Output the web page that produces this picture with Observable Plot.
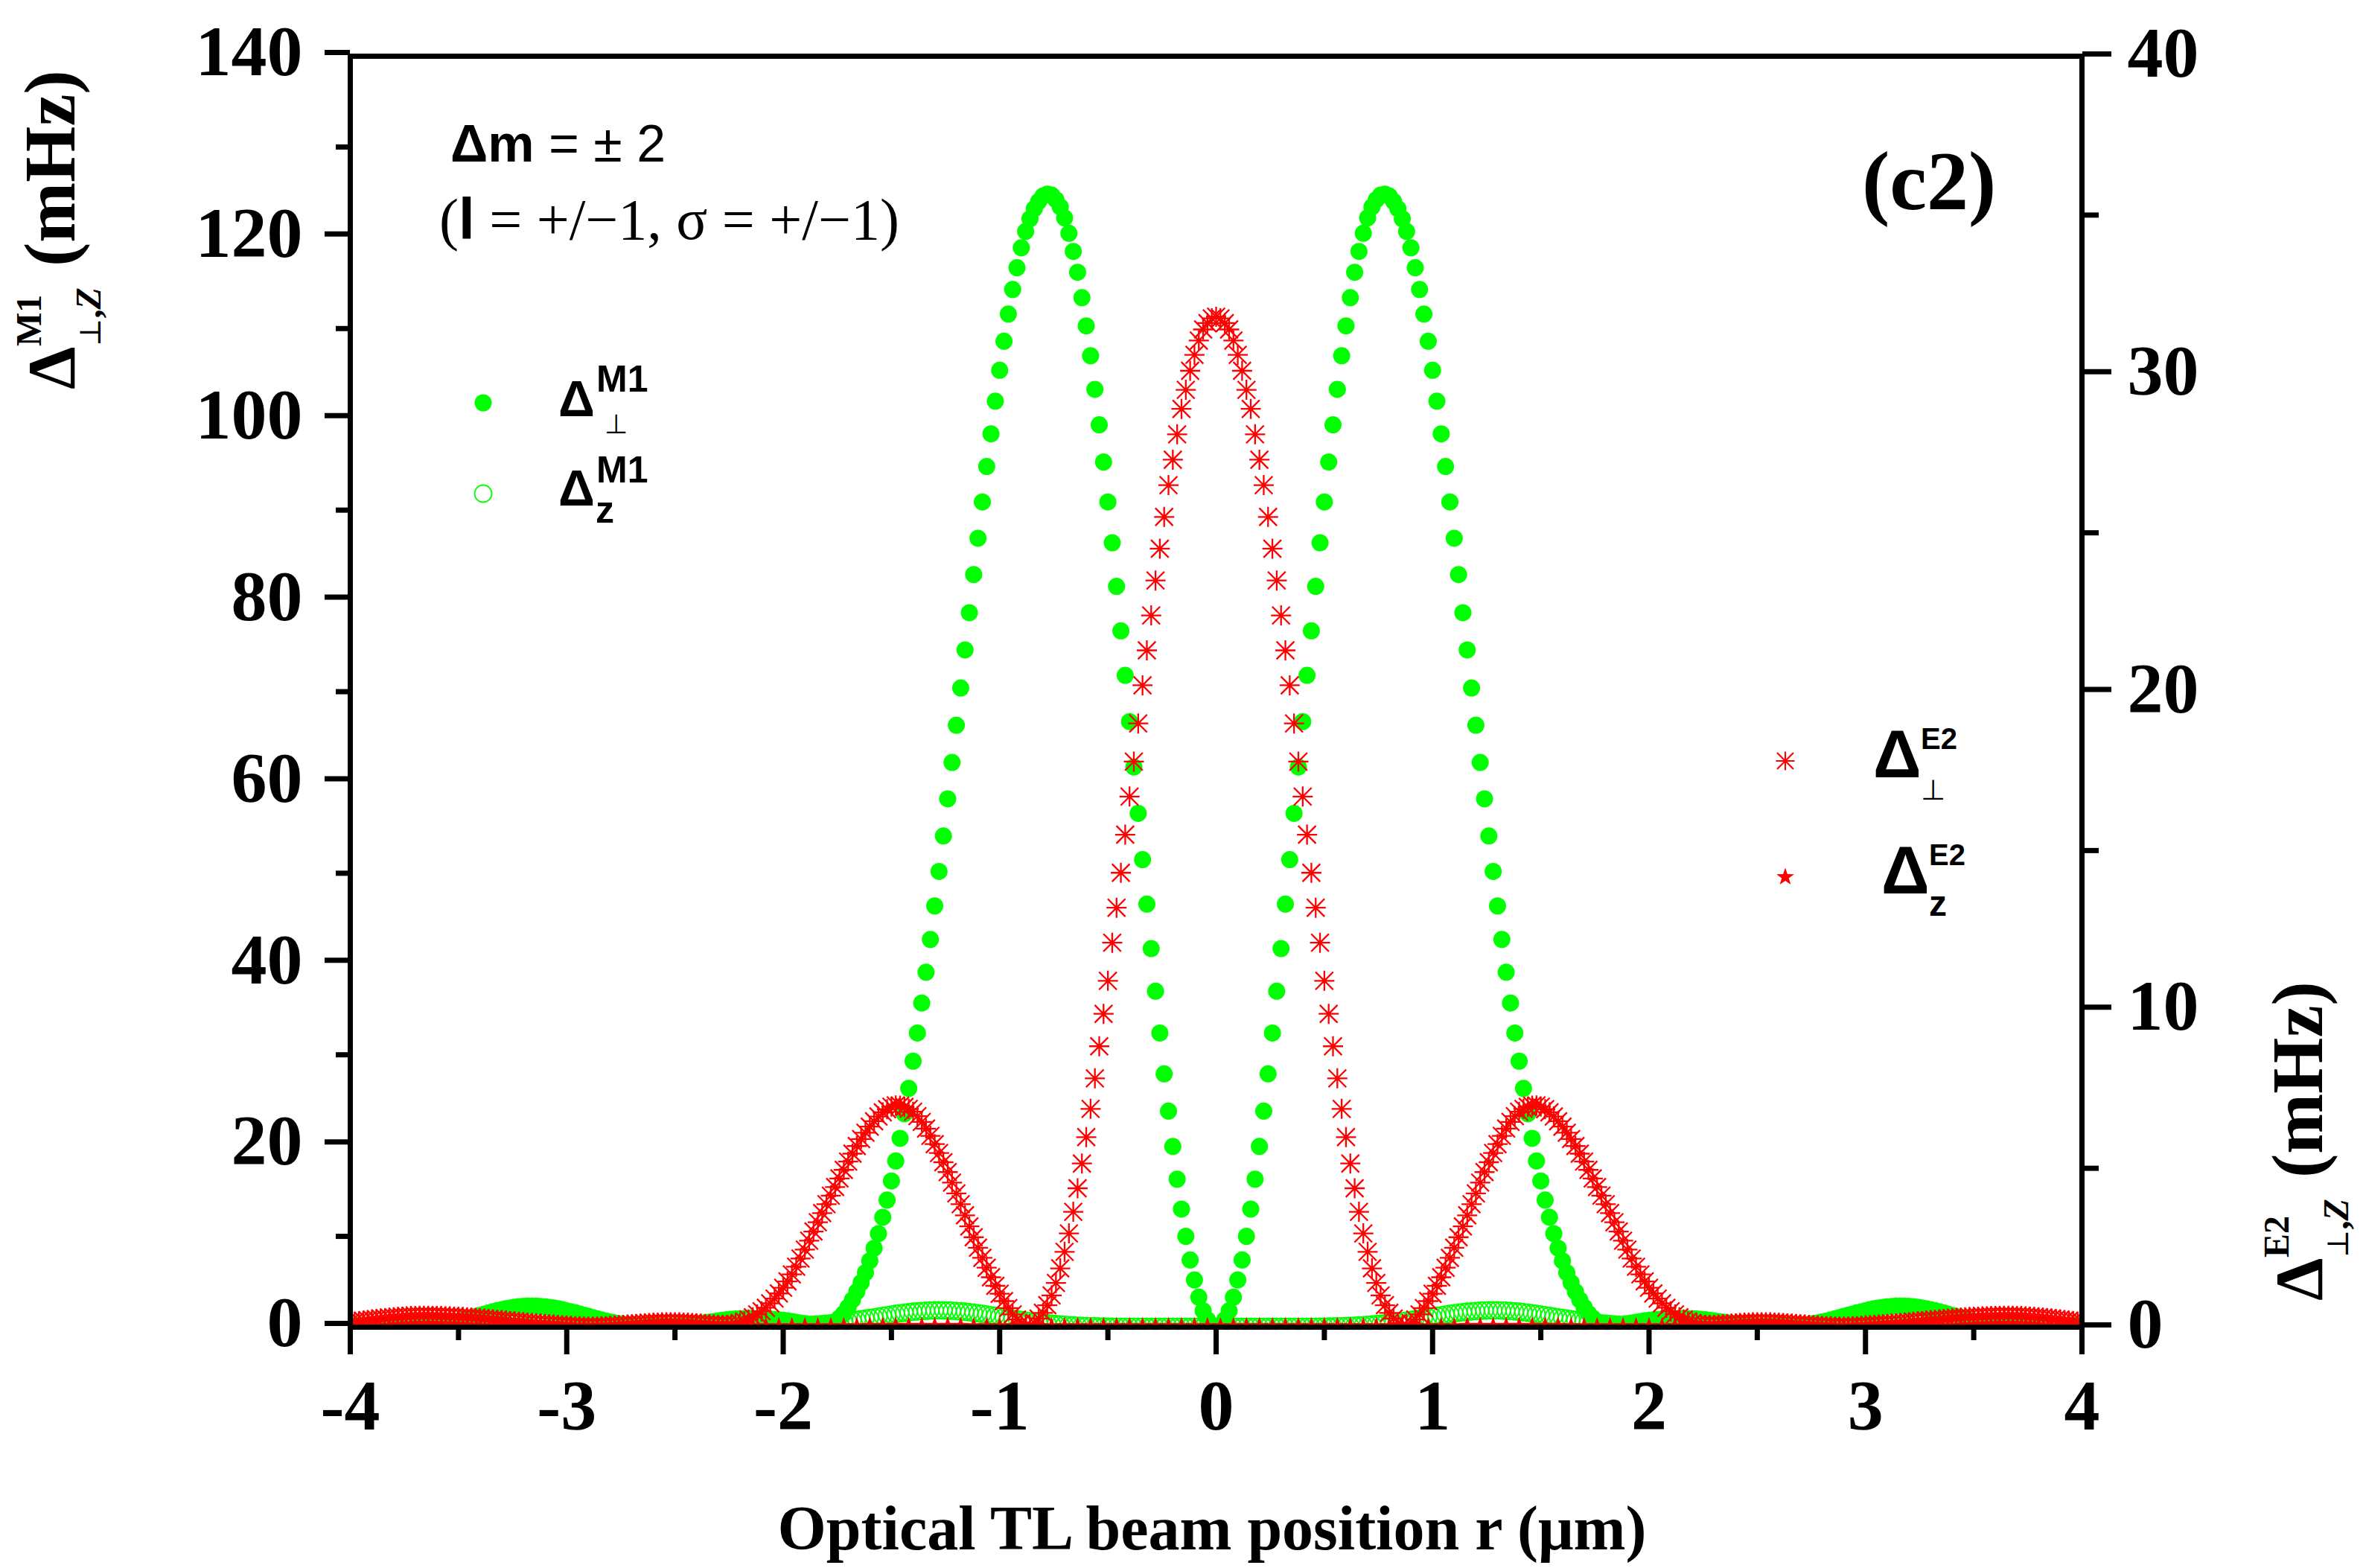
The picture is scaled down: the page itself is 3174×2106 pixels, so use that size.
<!DOCTYPE html>
<html><head><meta charset="utf-8">
<script src="https://cdn.jsdelivr.net/npm/d3@7"></script>
<script src="https://cdn.jsdelivr.net/npm/@observablehq/plot@0.6"></script>
<style>html,body{margin:0;padding:0;background:#fff;}#chart{width:3174px;height:2106px;}</style>
</head><body><div id="chart"></div>
<script>
// beam position r (µm)
const r = [
-4,-3.98,-3.96,-3.94,-3.92,-3.9,-3.88,-3.86,-3.84,-3.82,
-3.8,-3.78,-3.76,-3.74,-3.72,-3.7,-3.68,-3.66,-3.64,-3.62,
-3.6,-3.58,-3.56,-3.54,-3.52,-3.5,-3.48,-3.46,-3.44,-3.42,
-3.4,-3.38,-3.36,-3.34,-3.32,-3.3,-3.28,-3.26,-3.24,-3.22,
-3.2,-3.18,-3.16,-3.14,-3.12,-3.1,-3.08,-3.06,-3.04,-3.02,
-3,-2.98,-2.96,-2.94,-2.92,-2.9,-2.88,-2.86,-2.84,-2.82,
-2.8,-2.78,-2.76,-2.74,-2.72,-2.7,-2.68,-2.66,-2.64,-2.62,
-2.6,-2.58,-2.56,-2.54,-2.52,-2.5,-2.48,-2.46,-2.44,-2.42,
-2.4,-2.38,-2.36,-2.34,-2.32,-2.3,-2.28,-2.26,-2.24,-2.22,
-2.2,-2.18,-2.16,-2.14,-2.12,-2.1,-2.08,-2.06,-2.04,-2.02,
-2,-1.98,-1.96,-1.94,-1.92,-1.9,-1.88,-1.86,-1.84,-1.82,
-1.8,-1.78,-1.76,-1.74,-1.72,-1.7,-1.68,-1.66,-1.64,-1.62,
-1.6,-1.58,-1.56,-1.54,-1.52,-1.5,-1.48,-1.46,-1.44,-1.42,
-1.4,-1.38,-1.36,-1.34,-1.32,-1.3,-1.28,-1.26,-1.24,-1.22,
-1.2,-1.18,-1.16,-1.14,-1.12,-1.1,-1.08,-1.06,-1.04,-1.02,
-1,-0.98,-0.96,-0.94,-0.92,-0.9,-0.88,-0.86,-0.84,-0.82,
-0.8,-0.78,-0.76,-0.74,-0.72,-0.7,-0.68,-0.66,-0.64,-0.62,
-0.6,-0.58,-0.56,-0.54,-0.52,-0.5,-0.48,-0.46,-0.44,-0.42,
-0.4,-0.38,-0.36,-0.34,-0.32,-0.3,-0.28,-0.26,-0.24,-0.22,
-0.2,-0.18,-0.16,-0.14,-0.12,-0.1,-0.08,-0.06,-0.04,-0.02,
0,0.02,0.04,0.06,0.08,0.1,0.12,0.14,0.16,0.18,
0.2,0.22,0.24,0.26,0.28,0.3,0.32,0.34,0.36,0.38,
0.4,0.42,0.44,0.46,0.48,0.5,0.52,0.54,0.56,0.58,
0.6,0.62,0.64,0.66,0.68,0.7,0.72,0.74,0.76,0.78,
0.8,0.82,0.84,0.86,0.88,0.9,0.92,0.94,0.96,0.98,
1,1.02,1.04,1.06,1.08,1.1,1.12,1.14,1.16,1.18,
1.2,1.22,1.24,1.26,1.28,1.3,1.32,1.34,1.36,1.38,
1.4,1.42,1.44,1.46,1.48,1.5,1.52,1.54,1.56,1.58,
1.6,1.62,1.64,1.66,1.68,1.7,1.72,1.74,1.76,1.78,
1.8,1.82,1.84,1.86,1.88,1.9,1.92,1.94,1.96,1.98,
2,2.02,2.04,2.06,2.08,2.1,2.12,2.14,2.16,2.18,
2.2,2.22,2.24,2.26,2.28,2.3,2.32,2.34,2.36,2.38,
2.4,2.42,2.44,2.46,2.48,2.5,2.52,2.54,2.56,2.58,
2.6,2.62,2.64,2.66,2.68,2.7,2.72,2.74,2.76,2.78,
2.8,2.82,2.84,2.86,2.88,2.9,2.92,2.94,2.96,2.98,
3,3.02,3.04,3.06,3.08,3.1,3.12,3.14,3.16,3.18,
3.2,3.22,3.24,3.26,3.28,3.3,3.32,3.34,3.36,3.38,
3.4,3.42,3.44,3.46,3.48,3.5,3.52,3.54,3.56,3.58,
3.6,3.62,3.64,3.66,3.68,3.7,3.72,3.74,3.76,3.78,
3.8,3.82,3.84,3.86,3.88,3.9,3.92,3.94,3.96,3.98,
4];

// Δ⊥^M1 (mHz, left axis) – green filled circles
const perpM1 = [
0.22,
0.22,0.21,0.2,0.19,0.18,0.16,0.14,0.12,0.1,0.08,
0.06,0.04,0.03,0.02,0.02,0.03,0.05,0.08,0.12,0.18,
0.25,0.33,0.42,0.53,0.64,0.76,0.89,1.02,1.16,1.3,
1.44,1.57,1.7,1.82,1.93,2.03,2.12,2.19,2.25,2.29,
2.31,2.32,2.31,2.28,2.24,2.18,2.11,2.02,1.92,1.81,
1.69,1.57,1.44,1.31,1.18,1.05,0.92,0.8,0.68,0.57,
0.47,0.38,0.3,0.23,0.17,0.12,0.08,0.05,0.03,0.02,
0.02,0.03,0.05,0.07,0.1,0.14,0.19,0.24,0.3,0.36,
0.42,0.49,0.56,0.62,0.69,0.75,0.81,0.86,0.9,0.93,
0.95,0.96,0.96,0.95,0.93,0.91,0.88,0.84,0.8,0.75,
0.69,0.62,0.54,0.46,0.38,0.3,0.22,0.17,0.15,0.2,
0.35,0.6,1.0,1.5,2.2,3.0,3.9,4.9,6.0,7.3,
8.7,10.3,12.1,14.0,16.1,18.3,20.8,23.5,26.3,29.3,
32.4,35.7,39.1,42.7,46.4,50.2,54.1,58.2,62.2,66.3,
70.4,74.6,78.7,82.9,86.9,90.9,94.8,98.4,102.0,105.4,
108.6,111.6,114.3,116.7,118.9,120.7,122.1,123.2,124.0,124.6,
124.8,124.7,124.2,123.4,122.2,120.5,118.5,116.2,113.4,110.3,
107.0,103.3,99.4,95.3,90.9,86.4,81.6,76.7,71.8,66.7,
61.7,56.6,51.5,46.6,41.7,37.0,32.4,27.9,23.8,19.9,
16.3,13.0,10.0,7.4,5.2,3.3,1.8,0.8,0.2,
0,0.2,0.8,1.8,3.3,5.2,7.4,10.0,13.0,16.3,
19.9,23.8,27.9,32.4,37.0,41.7,46.6,51.5,56.6,61.7,
66.7,71.8,76.7,81.6,86.4,90.9,95.3,99.4,103.3,107.0,
110.3,113.4,116.2,118.5,120.5,122.2,123.4,124.2,124.7,124.8,
124.6,124.0,123.2,122.1,120.7,118.9,116.7,114.3,111.6,108.6,
105.4,102.0,98.4,94.8,90.9,86.9,82.9,78.7,74.6,70.4,
66.3,62.2,58.2,54.1,50.2,46.4,42.7,39.1,35.7,32.4,
29.3,26.3,23.5,20.8,18.3,16.1,14.0,12.1,10.3,8.7,
7.3,6.0,4.9,3.9,3.0,2.2,1.5,1.0,0.6,0.35,
0.2,0.15,0.17,0.22,0.3,0.38,0.46,0.54,0.62,0.69,
0.75,0.8,0.84,0.88,0.91,0.93,0.95,0.96,0.96,0.95,
0.93,0.9,0.86,0.81,0.75,0.69,0.62,0.56,0.49,0.42,
0.36,0.3,0.24,0.19,0.14,0.1,0.07,0.05,0.03,0.02,
0.02,0.03,0.05,0.08,0.12,0.17,0.23,0.3,0.38,0.47,
0.57,0.68,0.8,0.92,1.05,1.18,1.31,1.44,1.57,1.69,
1.81,1.92,2.02,2.11,2.18,2.24,2.28,2.31,2.32,2.31,
2.29,2.25,2.19,2.12,2.03,1.93,1.82,1.7,1.57,1.44,
1.3,1.16,1.02,0.89,0.76,0.64,0.53,0.42,0.33,0.25,
0.18,0.12,0.08,0.05,0.03,0.02,0.02,0.03,0.04,0.06,
0.08,0.1,0.12,0.14,0.16,0.18,0.19,0.2,0.21,0.22,
0.22];

// Δz^M1 (mHz, left axis) – green open circles
const zM1 = [
0.02,
0.02,0.02,0.02,0.02,0.02,0.02,0.02,0.02,0.02,0.02,
0.02,0.02,0.02,0.02,0.02,0.02,0.02,0.03,0.03,0.03,
0.03,0.03,0.03,0.03,0.04,0.04,0.04,0.04,0.05,0.05,
0.05,0.05,0.06,0.06,0.06,0.06,0.07,0.07,0.07,0.07,
0.07,0.07,0.08,0.08,0.08,0.08,0.08,0.08,0.08,0.08,
0.08,0.08,0.08,0.08,0.07,0.07,0.07,0.07,0.07,0.07,
0.06,0.06,0.06,0.06,0.05,0.05,0.05,0.05,0.04,0.04,
0.04,0.04,0.04,0.03,0.03,0.03,0.03,0.03,0.03,0.03,
0.03,0.03,0.03,0.03,0.03,0.03,0.03,0.03,0.03,0.03,
0.03,0.03,0.03,0.03,0.03,0.04,0.05,0.06,0.07,0.09,
0.10,0.12,0.14,0.16,0.19,0.22,0.25,0.29,0.33,0.37,
0.42,0.47,0.53,0.58,0.65,0.71,0.78,0.86,0.93,1.01,
1.08,1.16,1.24,1.31,1.39,1.46,1.53,1.59,1.65,1.70,
1.74,1.78,1.81,1.83,1.85,1.85,1.85,1.83,1.81,1.78,
1.74,1.70,1.65,1.59,1.53,1.46,1.39,1.31,1.24,1.16,
1.08,1.01,0.93,0.86,0.78,0.71,0.65,0.58,0.53,0.47,
0.42,0.37,0.33,0.29,0.25,0.22,0.19,0.16,0.14,0.12,
0.10,0.09,0.07,0.06,0.05,0.04,0.03,0.03,0.03,0.03,
0.03,0.03,0.03,0.02,0.02,0.02,0.02,0.02,0.02,0.02,
0.02,0.02,0.02,0.02,0.02,0.02,0.02,0.02,0.02,
0.02,0.02,0.02,0.02,0.02,0.02,0.02,0.02,0.02,0.02,
0.02,0.02,0.02,0.02,0.02,0.02,0.02,0.03,0.03,0.03,
0.03,0.03,0.03,0.03,0.04,0.05,0.06,0.07,0.09,0.10,
0.12,0.14,0.16,0.19,0.22,0.25,0.29,0.33,0.37,0.42,
0.47,0.53,0.58,0.65,0.71,0.78,0.86,0.93,1.01,1.08,
1.16,1.24,1.31,1.39,1.46,1.53,1.59,1.65,1.70,1.74,
1.78,1.81,1.83,1.85,1.85,1.85,1.83,1.81,1.78,1.74,
1.70,1.65,1.59,1.53,1.46,1.39,1.31,1.24,1.16,1.08,
1.01,0.93,0.86,0.78,0.71,0.65,0.58,0.53,0.47,0.42,
0.37,0.33,0.29,0.25,0.22,0.19,0.16,0.14,0.12,0.10,
0.09,0.07,0.06,0.05,0.04,0.03,0.03,0.03,0.03,0.03,
0.03,0.03,0.03,0.03,0.03,0.03,0.03,0.03,0.03,0.03,
0.03,0.03,0.03,0.03,0.03,0.03,0.03,0.04,0.04,0.04,
0.04,0.04,0.05,0.05,0.05,0.05,0.06,0.06,0.06,0.06,
0.07,0.07,0.07,0.07,0.07,0.07,0.08,0.08,0.08,0.08,
0.08,0.08,0.08,0.08,0.08,0.08,0.08,0.08,0.07,0.07,
0.07,0.07,0.07,0.07,0.06,0.06,0.06,0.06,0.05,0.05,
0.05,0.05,0.04,0.04,0.04,0.04,0.03,0.03,0.03,0.03,
0.03,0.03,0.03,0.02,0.02,0.02,0.02,0.02,0.02,0.02,
0.02,0.02,0.02,0.02,0.02,0.02,0.02,0.02,0.02,0.02,
0.02];

// Δ⊥^E2 (mHz, right axis) – red asterisks
const perpE2 = [
0.15,
0.17,0.19,0.20,0.22,0.24,0.25,0.27,0.28,0.30,0.31,
0.32,0.33,0.34,0.35,0.35,0.36,0.36,0.36,0.35,0.35,
0.35,0.34,0.34,0.33,0.32,0.32,0.31,0.30,0.29,0.28,
0.27,0.25,0.24,0.23,0.22,0.21,0.19,0.18,0.17,0.15,
0.14,0.13,0.12,0.11,0.10,0.09,0.08,0.07,0.06,0.05,
0.04,0.03,0.03,0.02,0.02,0.02,0.02,0.03,0.03,0.04,
0.05,0.06,0.07,0.08,0.09,0.10,0.11,0.12,0.13,0.14,
0.14,0.15,0.15,0.15,0.15,0.15,0.14,0.14,0.13,0.12,
0.11,0.10,0.09,0.08,0.07,0.07,0.07,0.08,0.10,0.13,
0.18,0.24,0.31,0.40,0.50,0.61,0.75,0.90,1.06,1.24,
1.44,1.66,1.90,2.16,2.44,2.72,3.01,3.30,3.59,3.87,
4.14,4.41,4.68,4.95,5.21,5.46,5.70,5.92,6.12,6.31,
6.48,6.63,6.76,6.86,6.94,6.98,6.97,6.93,6.87,6.78,
6.64,6.46,6.25,6.02,5.76,5.48,5.19,4.88,4.55,4.21,
3.87,3.52,3.17,2.83,2.50,2.18,1.87,1.57,1.30,1.05,
0.82,0.60,0.40,0.24,0.12,0.05,0.05,0.13,0.27,0.45,
0.69,1.00,1.39,1.85,2.37,2.95,3.63,4.37,5.15,5.98,
6.87,7.83,8.84,9.86,10.9,12.1,13.2,14.3,15.5,16.7,
17.8,19.0,20.2,21.3,22.4,23.5,24.5,25.5,26.5,27.3,
28.1,28.9,29.5,30.1,30.6,31.05,31.4,31.6,31.75,
31.8,31.75,31.6,31.4,31.05,30.6,30.1,29.5,28.9,28.1,
27.3,26.5,25.5,24.5,23.5,22.4,21.3,20.2,19.0,17.8,
16.7,15.5,14.3,13.2,12.1,10.9,9.86,8.84,7.83,6.87,
5.98,5.15,4.37,3.63,2.95,2.37,1.85,1.39,1.00,0.69,
0.45,0.27,0.13,0.05,0.05,0.12,0.24,0.40,0.60,0.82,
1.05,1.30,1.57,1.87,2.18,2.50,2.83,3.17,3.52,3.87,
4.21,4.55,4.88,5.19,5.48,5.76,6.02,6.25,6.46,6.64,
6.78,6.87,6.93,6.97,6.98,6.94,6.86,6.76,6.63,6.48,
6.31,6.12,5.92,5.70,5.46,5.21,4.95,4.68,4.41,4.14,
3.87,3.59,3.30,3.01,2.72,2.44,2.16,1.90,1.66,1.44,
1.24,1.06,0.90,0.75,0.61,0.50,0.40,0.31,0.24,0.18,
0.13,0.10,0.08,0.07,0.07,0.07,0.08,0.09,0.10,0.11,
0.12,0.13,0.14,0.14,0.15,0.15,0.15,0.15,0.15,0.14,
0.14,0.13,0.12,0.11,0.10,0.09,0.08,0.07,0.06,0.05,
0.04,0.03,0.03,0.02,0.02,0.02,0.02,0.03,0.03,0.04,
0.05,0.06,0.07,0.08,0.09,0.10,0.11,0.12,0.13,0.14,
0.15,0.17,0.18,0.19,0.21,0.22,0.23,0.24,0.25,0.27,
0.28,0.29,0.30,0.31,0.32,0.32,0.33,0.34,0.34,0.35,
0.35,0.35,0.36,0.36,0.36,0.35,0.35,0.34,0.33,0.32,
0.31,0.30,0.28,0.27,0.25,0.24,0.22,0.20,0.19,0.17,
0.15];

// Δz^E2 (mHz, right axis) – red stars, sampled every 0.06 µm
const rStar = [
-4,-3.94,-3.88,-3.82,-3.76,-3.7,-3.64,-3.58,-3.52,-3.46,
-3.4,-3.34,-3.28,-3.22,-3.16,-3.1,-3.04,-2.98,-2.92,-2.86,
-2.8,-2.74,-2.68,-2.62,-2.56,-2.5,-2.44,-2.38,-2.32,-2.26,
-2.2,-2.14,-2.08,-2.02,-1.96,-1.9,-1.84,-1.78,-1.72,-1.66,
-1.6,-1.54,-1.48,-1.42,-1.36,-1.3,-1.24,-1.18,-1.12,-1.06,
-1,-0.94,-0.88,-0.82,-0.76,-0.7,-0.64,-0.58,-0.52,-0.46,
-0.4,-0.34,-0.28,-0.22,-0.16,-0.1,-0.04,0.02,0.08,0.14,
0.2,0.26,0.32,0.38,0.44,0.5,0.56,0.62,0.68,0.74,
0.8,0.86,0.92,0.98,1.04,1.1,1.16,1.22,1.28,1.34,
1.4,1.46,1.52,1.58,1.64,1.7,1.76,1.82,1.88,1.94,
2,2.06,2.12,2.18,2.24,2.3,2.36,2.42,2.48,2.54,
2.6,2.66,2.72,2.78,2.84,2.9,2.96,3.02,3.08,3.14,
3.2,3.26,3.32,3.38,3.44,3.5,3.56,3.62,3.68,3.74,
3.8,3.86,3.92,3.98];
const zE2 = [
0.03,0.03,0.03,0.03,0.03,0.03,0.03,0.03,0.03,0.03,
0.03,0.03,0.03,0.03,0.03,0.03,0.03,0.03,0.03,0.03,
0.03,0.03,0.03,0.03,0.03,0.03,0.03,0.03,0.03,0.03,
0.03,0.03,0.03,0.03,0.03,0.03,0.03,0.03,0.03,0.03,
0.04,0.04,0.04,0.04,0.04,0.04,0.04,0.04,0.03,0.03,
0.03,0.03,0.03,0.03,0.03,0.03,0.03,0.03,0.03,0.03,
0.03,0.03,0.03,0.03,0.03,0.03,0.03,0.03,0.03,0.03,
0.03,0.03,0.03,0.03,0.03,0.03,0.03,0.03,0.03,0.03,
0.03,0.03,0.03,0.03,0.03,0.03,0.04,0.04,0.04,0.04,
0.04,0.04,0.04,0.04,0.03,0.03,0.03,0.03,0.03,0.03,
0.03,0.03,0.03,0.03,0.03,0.03,0.03,0.03,0.03,0.03,
0.03,0.03,0.03,0.03,0.03,0.03,0.03,0.03,0.03,0.03,
0.03,0.03,0.03,0.03,0.03,0.03,0.03,0.03,0.03,0.03,
0.03,0.03,0.03,0.03];

// tick values
const xMajor = [-4,-3,-2,-1,0,1,2,3,4];
const xMinor = [-3.5,-2.5,-1.5,-0.5,0.5,1.5,2.5,3.5];
const yMajor = [0,20,40,60,80,100,120,140];
const yMinor = [10,30,50,70,90,110,130];
const y2Major = [0,10,20,30,40];
const y2Minor = [5,15,25,35];

if (perpM1.length !== r.length || zM1.length !== r.length || perpE2.length !== r.length || zE2.length !== rStar.length) {
  throw new Error("length mismatch " + [r.length, perpM1.length, zM1.length, perpE2.length, rStar.length, zE2.length].join(","));
}

const RF = 140 / 40; // right axis (0–40) mapped onto left axis (0–140)
const rows = r.map((x, i) => ({r: x, perpM1: perpM1[i], zM1: zM1[i], perpE2: perpE2[i] * RF}));
const stars = rStar.map((x, i) => ({r: x, v: zE2[i] * RF}));

const asteriskSym = {
  draw(ctx, size) {
    const a = Math.sqrt(size / Math.PI), d = a * 0.88;
    ctx.moveTo(0, -a); ctx.lineTo(0, a);
    ctx.moveTo(-a, 0); ctx.lineTo(a, 0);
    ctx.moveTo(-d, -d); ctx.lineTo(d, d);
    ctx.moveTo(-d, d); ctx.lineTo(d, -d);
  }
};
const starSym = {
  draw(ctx, size) {
    const a = Math.sqrt(size / Math.PI), b = a * 0.4;
    for (let i = 0; i < 10; i++) {
      const rad = i % 2 ? b : a, ang = -Math.PI / 2 + i * Math.PI / 5;
      const px = rad * Math.cos(ang), py = rad * Math.sin(ang);
      if (i === 0) ctx.moveTo(px, py); else ctx.lineTo(px, py);
    }
    ctx.closePath();
  }
};

const W = 3174, H = 2106;
const SERIF = "Liberation Serif, Times New Roman, serif";
const SANS = "Liberation Sans, Arial, sans-serif";
const GREEN = "#00ff00", RED = "#ff0000";
const tickText = {fontSize: 96, fontFamily: SERIF, fontWeight: "bold"};

const chart = Plot.plot({
  width: W, height: H,
  marginLeft: 470, marginRight: 378, marginTop: 75, marginBottom: 324,
  x: {domain: [-4, 4]},
  y: {domain: [0, 140]},
  style: {background: "white", color: "black"},
  marks: [
    Plot.dot(rows, {x: "r", y: "zM1", r: 11.5, fill: "none", stroke: GREEN, strokeWidth: 1.8, clip: true}),
    Plot.dot(rows, {x: "r", y: "perpM1", r: 11.5, fill: GREEN, stroke: "none", clip: true}),
    Plot.dot(rows, {x: "r", y: "perpE2", r: 13.5, symbol: asteriskSym, fill: "none", stroke: RED, strokeWidth: 2.3, clip: true}),
    Plot.dot(stars, {x: "r", y: "v", r: 12.5, symbol: starSym, fill: RED, stroke: "none", clip: true}),
    Plot.axisX(xMajor, {tickSize: 37, strokeWidth: 7, tickPadding: 32, tickFormat: d => String(d), label: null, ...tickText}),
    Plot.axisX(xMinor, {tickSize: 18, strokeWidth: 7, tickFormat: () => "", label: null}),
    Plot.axisY(yMajor, {tickSize: 34, strokeWidth: 7, tickPadding: 30, dy: -5, tickFormat: d => String(d), label: null, ...tickText}),
    Plot.axisY(yMinor, {tickSize: 19, strokeWidth: 7, tickFormat: () => "", label: null}),
    Plot.axisY(y2Major.map(v => v * RF), {anchor: "right", tickSize: 39, strokeWidth: 7, tickPadding: 22, dy: -3, tickFormat: d => String(Math.round(d / RF)), label: null, ...tickText}),
    Plot.axisY(y2Minor.map(v => v * RF), {anchor: "right", tickSize: 22, strokeWidth: 7, tickFormat: () => "", label: null}),
    Plot.frame({strokeWidth: 7})
  ]
});
document.getElementById("chart").appendChild(chart);

const svg = d3.select(chart);
const g = svg.append("g").attr("fill", "black").attr("text-anchor", "start");

function txt(parent, x, y, s, size, family, weight, style) {
  return parent.append("text").attr("x", x).attr("y", y).text(s)
    .attr("text-anchor", "start")
    .attr("font-size", size).attr("font-family", family)
    .attr("font-weight", weight || "normal").attr("font-style", style || "normal");
}

// axis titles
txt(g, 1628, 2081, "Optical TL beam position r (\u03bcm)", 84, SERIF, "bold").attr("text-anchor", "middle");

function yTitle(tx, ty, sup) {
  const t = g.append("g").attr("transform", `translate(${tx},${ty}) rotate(-90)`);
  txt(t, 0, 0, "\u0394", 92, SERIF, "bold");
  txt(t, 58, -45, sup, 48, SERIF, "bold");
  const s = txt(t, 58, 35, "", 48, SERIF, "bold");
  s.append("tspan").text("\u22a5").attr("font-family", "DejaVu Serif, serif").attr("font-weight", "normal").attr("font-size", 40);
  s.append("tspan").text(",");
  s.append("tspan").text("Z").attr("font-style", "italic");
  txt(t, 165, 0, "(mHz)", 97, SERIF, "bold");
}
yTitle(100, 523, "M1");
yTitle(3119, 1747, "E2");

// annotations
const a1 = txt(g, 605, 217, "", 70, SANS, "normal");
a1.append("tspan").text("\u0394m").attr("font-weight", "bold");
a1.append("tspan").text(" = \u00b1 2");
const a2 = txt(g, 590, 321, "", 78, SERIF, "normal");
a2.append("tspan").text("(");
a2.append("tspan").text("l").attr("font-family", SANS).attr("font-weight", "bold");
a2.append("tspan").text(" = +/\u22121, \u03c3 = +/\u22121)");
txt(g, 2501, 281, "(c2)", 112, SERIF, "bold");

// legends
function sym(cx, cy, s, rad, attrs) {
  const p = d3.path(); s.draw(p, rad * rad * Math.PI);
  const e = g.append("path").attr("d", p.toString()).attr("transform", `translate(${cx},${cy})`);
  for (const k in attrs) e.attr(k, attrs[k]);
}
g.append("circle").attr("cx", 649).attr("cy", 541).attr("r", 11.5).attr("fill", GREEN);
g.append("circle").attr("cx", 649).attr("cy", 663).attr("r", 11.5).attr("fill", "none").attr("stroke", GREEN).attr("stroke-width", 1.8);
txt(g, 750, 559, "\u0394", 68, SANS, "bold");
txt(g, 801, 526, "M1", 50, SANS, "bold");
txt(g, 812, 582, "\u22a5", 36, "DejaVu Sans, sans-serif", "normal");
txt(g, 750, 679, "\u0394", 68, SANS, "bold");
txt(g, 801, 648, "M1", 50, SANS, "bold");
txt(g, 800, 702, "z", 50, SANS, "bold");

sym(2398, 1022, asteriskSym, 12.5, {fill: "none", stroke: RED, "stroke-width": 2.1});
sym(2398, 1178, starSym, 12.5, {fill: RED});
txt(g, 2516, 1044, "\u0394", 90, SANS, "bold");
txt(g, 2580, 1006, "E2", 40, SANS, "bold");
txt(g, 2580, 1074, "\u22a5", 38, "DejaVu Sans, sans-serif", "normal");
txt(g, 2527, 1200, "\u0394", 90, SANS, "bold");
txt(g, 2591, 1162, "E2", 40, SANS, "bold");
txt(g, 2591, 1230, "z", 48, SANS, "bold");
</script>
</body></html>
